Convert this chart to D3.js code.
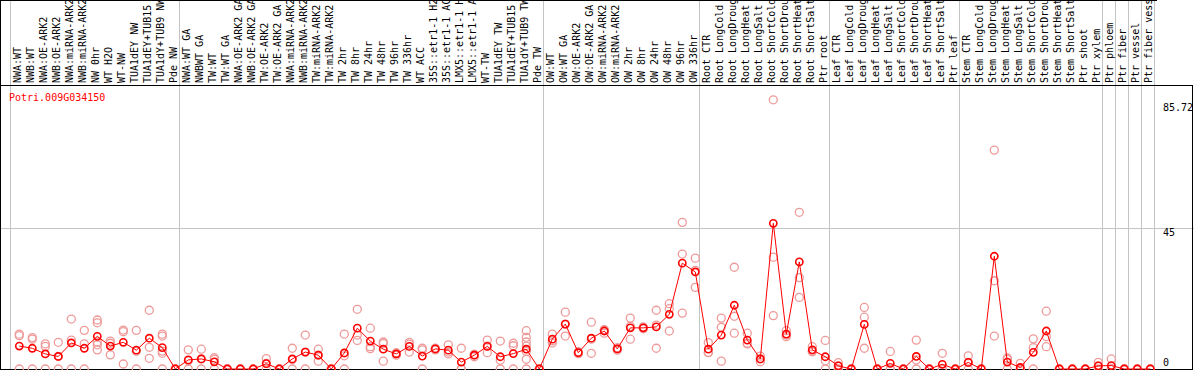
<!DOCTYPE html>
<html>
<head>
<meta charset="utf-8">
<script src="https://cdn.jsdelivr.net/npm/d3@7"></script>
<style>
  body { margin: 0; background: #fff; }
  svg { display: block; }
  text { font-family: "DejaVu Sans Mono", monospace; font-size: 10px; }
</style>
</head>
<body>
<div id="vis"></div>
<script>
// gene shown in this panel
const geneName = "Potri.009G034150";

// sample names, left to right
const samples = [
  "NWA:WT", "NWB:WT", "NWA:OE-ARK2", "NWB:OE-ARK2", "NWA:miRNA-ARK2", "NWB:miRNA-ARK2",
  "NW 0hr", "WT H2O", "WT-NW", "TUA1dEY NW", "TUA1dEY+TUB15", "TUA1dY+TUB9 NW", "Pde NW",
  "NWA:WT GA", "NWBWT GA", "TW:WT", "TW:WT GA", "NWA:OE-ARK2 GA", "NWB:OE-ARK2 GA",
  "TW:OE-ARK2", "TW:OE-ARK2 GA", "NWA:miRNA-ARK2", "NWB:miRNA-ARK2", "TW:miRNA-ARK2", "TW:miRNA-ARK2",
  "TW 2hr", "TW 8hr", "TW 24hr", "TW 48hr", "TW 96hr", "TW 336hr", "WT ACC",
  "35S::etr1-1 H2O", "35S::etr1-1 ACC", "LMX5::etr1-1 H2O", "LMX5::etr1-1 ACC",
  "WT-TW", "TUA1dEY TW", "TUA1dEY+TUB15", "TUA1dY+TUB9 TW", "Pde TW",
  "OW:WT", "OW:WT GA", "OW:OE-ARK2", "OW:OE-ARK2 GA", "OW:miRNA-ARK2", "OW:miRNA-ARK2",
  "OW 2hr", "OW 8hr", "OW 24hr", "OW 48hr", "OW 96hr", "OW 336hr",
  "Root CTR", "Root LongCold", "Root LongDrought", "Root LongHeat", "Root LongSalt",
  "Root ShortCold", "Root ShortDrought", "Root ShortHeat", "Root ShortSalt", "Ptr root",
  "Leaf CTR", "Leaf LongCold", "Leaf LongDrought", "Leaf LongHeat", "Leaf LongSalt",
  "Leaf ShortCold", "Leaf ShortDrought", "Leaf ShortHeat", "Leaf ShortSalt", "Ptr leaf",
  "Stem CTR", "Stem LongCold", "Stem LongDrought", "Stem LongHeat", "Stem LongSalt",
  "Stem ShortCold", "Stem ShortDrought", "Stem ShortHeat", "Stem ShortSalt", "Ptr shoot",
  "Ptr xylem", "Ptr phloem", "Ptr fiber", "Ptr vessel", "Ptr fiber vessel"
];

// indices where a separator line is drawn (start of a block)
const separators = [0, 13, 41, 53, 63, 73, 84, 85, 86, 87, 88];

// mean expression per sample
const means = [
  7.3, 6.6, 4.8, 4.0, 8.3, 6.6, 10.4, 7.3, 8.5, 6.0, 9.8, 6.8, 0,
  2.9, 3.2, 2.3, 0, 0, 0, 1.7, 0, 3.2, 5.4, 4.4, 0, 5.1, 13.0, 8.9, 6.3, 4.8, 7.2,
  4.1, 6.4, 6.0, 2.2, 4.4, 7.2, 3.9, 4.9, 6.3, 0,
  9.5, 14.3, 5.2, 9.8, 12.1, 6.4, 13.1, 13.1, 13.4, 17.4, 33.7, 30.9,
  6.3, 10.8, 20.3, 9.2, 3.2, 46.4, 11.1, 34.1, 6.1, 3.9,
  1.0, 0, 14.2, 0, 1.8, 0, 4.0, 0, 1.5, 0,
  2.1, 0, 35.9, 2.2, 0.5, 5.3, 12.1, 0, 0, 0,
  1.0, 1.1, 0, 0, 0
];

// individual replicates per sample
const replicates = [
  [11.1, 10.6, 0], [10.0, 9.5, 0], [8.0, 7.2, 0], [8.5, 4.0, 0], [15.9, 9.2, 0],
  [12.3, 8.0, 0], [15.6, 14.7, 8.6, 7.7, 6.1], [8.9, 8.2, 4.5], [12.4, 11.9, 1.6],
  [12.3, 5.7, 0], [18.7, 6.9, 3.4], [11.1, 10.5, 5.7, 5.0, 0], [0, 0, 0],
  [6.1, 2.6, 0], [6.3, 3.2, 0], [3.6, 3.1, 0], [0, 0, 0], [0, 0, 0], [0, 0, 0],
  [3.3, 1.8, 0], [0, 0, 0], [6.6, 3.0, 0], [10.8, 5.4, 0], [6.3, 4.4, 2.5], [0, 0, 0],
  [11.1, 4.2, 0], [19.0, 10.8, 9.1], [13.0, 7.1, 6.5], [8.6, 8.1, 2.5], [5.2, 4.8, 4.4],
  [8.5, 7.9, 5.4], [6.6, 6.1, 0], [6.6, 6.4, 6.1], [7.7, 5.4, 4.8], [6.6, 0, 0],
  [4.7, 4.5, 3.9], [9.2, 7.3, 5.2], [8.9, 2.8, 0], [8.2, 7.4, 0],
  [12.2, 10.1, 8.6, 7.3, 5.6, 3.1, 0], [0, 0, 0],
  [11.1, 9.0, 8.3], [18.1, 14.3, 10.5], [5.5, 5.2, 4.9], [14.9, 9.5, 5.0], [12.5, 12.4, 11.4],
  [6.8, 6.4, 6.0], [16.2, 13.6, 9.5], [13.4, 13.1, 12.8], [18.7, 14.0, 6.6], [20.8, 19.2, 12.1],
  [46.7, 36.6, 17.8], [35.3, 31.4, 26.0],
  [8.4, 5.3, 5.2], [16.2, 13.3, 2.5], [32.4, 16.8, 11.4], [11.4, 8.2, 8.0], [4.1, 3.2, 2.3],
  [85.72, 35.6, 17.0], [12.2, 10.8, 10.3], [49.9, 29.1, 22.8], [7.1, 5.7, 5.5], [9.1, 2.6, 0],
  [2.0, 1.0, 0], [0, 0, 0], [19.6, 16.5, 6.6], [0, 0, 0], [5.6, 0, 0], [0, 0, 0],
  [9.2, 2.9, 0], [0, 0, 0], [5.0, 0, 0], [0, 0, 0],
  [4.2, 2.1, 0], [0, 0, 0], [69.7, 28.1, 10.5], [3.5, 3.1, 0], [1.8, 0, 0], [9.6, 6.8, 0],
  [18.4, 10.3, 7.1], [0, 0, 0], [0, 0, 0], [0, 0, 0],
  [2.1, 1.0, 0], [3.2, 0, 0], [0, 0, 0], [0, 0, 0], [0, 0, 0]
];

// value axis labels
const yTicks = [0, 45, 85.72];
const yMax = 85.72;

const width = 1194, height = 370;
const labelBottom = 85.5;

const svg = d3.select("#vis").append("svg")
  .attr("width", width)
  .attr("height", height);

const x = d3.scaleBand()
  .domain(d3.range(samples.length))
  .range([11, 1155])
  .paddingInner(0)
  .paddingOuter(0);

const y = d3.scaleLinear()
  .domain([0, yMax])
  .range([369, 99.8]);

const px = i => x(i) + 8.3;
const edge = k => k < samples.length ? x(k) : x(samples.length - 1) + x.bandwidth();

// vertical separators, through label area too
svg.append("g")
  .selectAll("line")
  .data(separators)
  .join("line")
    .attr("x1", d => Math.round(edge(d)) - 0.5)
    .attr("x2", d => Math.round(edge(d)) - 0.5)
    .attr("y1", 0)
    .attr("y2", 369)
    .attr("stroke", "#c4c4c4");

// horizontal grid at 45
svg.append("line")
  .attr("x1", 0).attr("x2", width)
  .attr("y1", Math.round(y(45)) + 0.5).attr("y2", Math.round(y(45)) + 0.5)
  .attr("stroke", "#c4c4c4");

// frame
const frame = svg.append("g").attr("stroke", "#000").attr("fill", "none");
frame.append("line").attr("x1", 0).attr("x2", 1157).attr("y1", 0.5).attr("y2", 0.5);
frame.append("line").attr("x1", 0).attr("x2", 1193).attr("y1", labelBottom).attr("y2", labelBottom);
frame.append("line").attr("x1", 0).attr("x2", 1193).attr("y1", 369.5).attr("y2", 369.5);
frame.append("line").attr("x1", 0.5).attr("x2", 0.5).attr("y1", 0).attr("y2", 370);
frame.append("line").attr("x1", 1192.5).attr("x2", 1192.5).attr("y1", labelBottom).attr("y2", 370);

// sample labels, rotated (long ones run off the top, as in the source)
svg.append("g")
  .selectAll("text")
  .data(samples)
  .join("text")
    .attr("transform", (d, i) => `translate(${x(i) + 10},83) rotate(-90)`)
    .attr("fill", "#000")
    .text(d => d);

// gene name
svg.append("text")
  .attr("x", 9).attr("y", 101)
  .attr("fill", "#ff0000")
  .text(geneName);

// value labels
svg.append("g")
  .selectAll("text")
  .data(yTicks)
  .join("text")
    .attr("x", 1163)
    .attr("y", d => d === 0 ? y(d) - 3.5 : d === yMax ? y(d) + 11 : y(d) + 8.5)
    .attr("fill", "#000")
    .text(d => d);

// replicates
const repPts = replicates.flatMap((r, i) => r.map(v => ({ i, v })));
svg.append("g")
  .selectAll("circle")
  .data(repPts)
  .join("circle")
    .attr("cx", d => px(d.i))
    .attr("cy", d => y(d.v))
    .attr("r", 4)
    .attr("fill", "none")
    .attr("stroke", "#ee9a9a")
    .attr("stroke-width", 1.3);

// mean line
const line = d3.line()
  .x((d, i) => px(i))
  .y(d => y(d));

svg.append("path")
  .datum(means)
  .attr("d", line)
  .attr("fill", "none")
  .attr("stroke", "#ff0000")
  .attr("stroke-width", 1);

svg.append("g")
  .selectAll("circle")
  .data(means)
  .join("circle")
    .attr("cx", (d, i) => px(i))
    .attr("cy", d => y(d))
    .attr("r", 3.6)
    .attr("fill", "none")
    .attr("stroke", "#ff0000")
    .attr("stroke-width", 1.6);
</script>
</body>
</html>
